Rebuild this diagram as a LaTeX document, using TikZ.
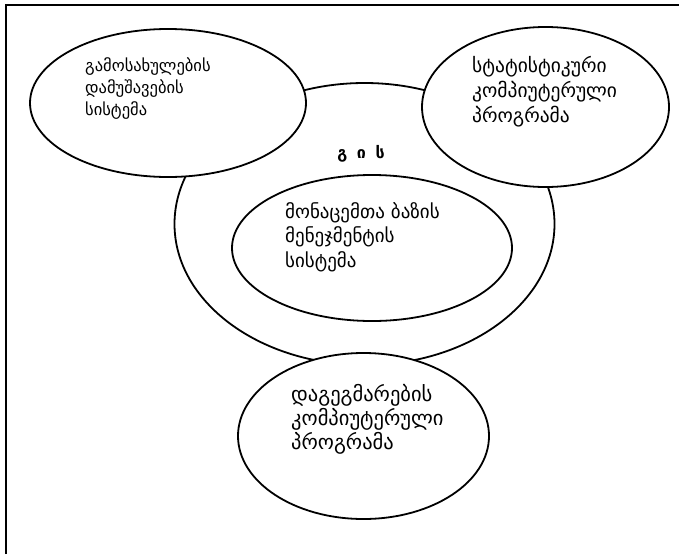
\documentclass[tikz,border=0pt]{standalone}
\usepackage{fontspec}
\setmainfont{DejaVu Sans}
\usetikzlibrary{shapes.geometric}
\begin{document}
\begin{tikzpicture}[x=1pt,y=-1pt,
  ell/.style={draw,ellipse,line width=1.8pt,inner sep=0pt},
  oval/.style={ell,fill=white},
  lbl/.style={anchor=base west,align=left,inner sep=0pt}]
\useasboundingbox (0,0) rectangle (679,554);
\draw[line width=2.4pt] (6,554) -- (6,5) -- (679,5);
\node[ell,minimum width=380pt,minimum height=282pt] (gis) at (364.5,224) {};
\node[ell,minimum width=280pt,minimum height=146pt] (dbms) at (372,248) {};
\node[oval,minimum width=276pt,minimum height=148pt] (img) at (168,103) {};
\node[oval,minimum width=247pt,minimum height=160pt] (stat) at (545.5,107) {};
\node[oval,minimum width=251pt,minimum height=166pt] (plan) at (363.5,436) {};
% base anchor = baseline of the last line
\node[lbl,font=\fontsize{16.5}{22}\selectfont] (timg) at (85,115) {გამოსახულების\\დამუშავების\\სისტემა};
\node[lbl,font=\fontsize{19.5}{25}\selectfont] (tstat) at (472,122) {სტატისტიკური\\კომპიუტერული\\პროგრამა};
\node[lbl,font=\fontsize{19}{24.5}\selectfont] (tdbms) at (285,267) {მონაცემთა ბაზის\\მენეჯმენტის\\სისტემა};
\node[lbl,font=\fontsize{20.5}{24}\selectfont] (tplan) at (291,449) {დაგეგმარების\\კომპიუტერული\\პროგრამა};
\node[anchor=base,inner sep=0pt,font=\fontsize{16}{16}\selectfont\bfseries] (tgis) at (361,158) {გ\hspace{0.6em}ი\hspace{0.6em}ს};
\end{tikzpicture}
\end{document}
